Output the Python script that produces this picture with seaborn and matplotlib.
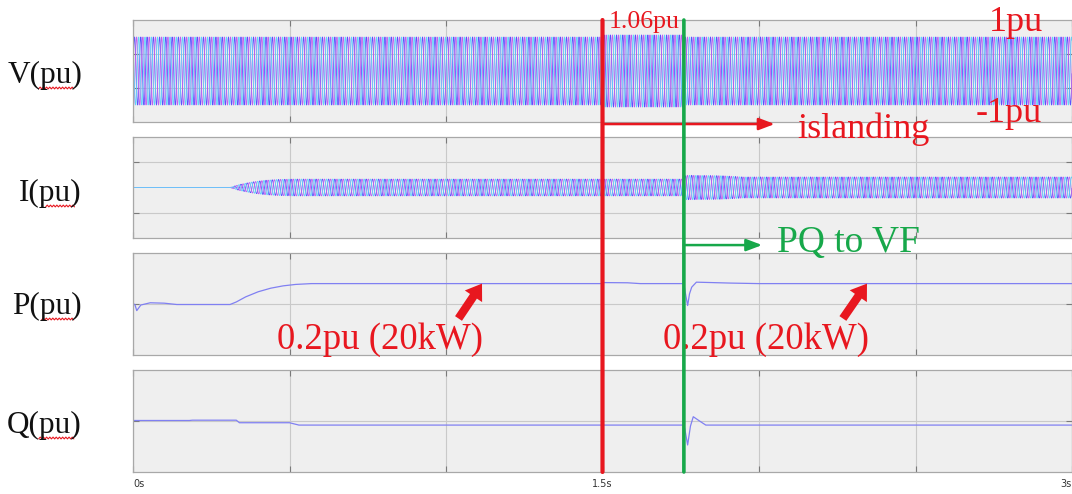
import numpy as np
import pandas as pd
import matplotlib
matplotlib.use("Agg")
import matplotlib.pyplot as plt
from matplotlib.patches import ConnectionPatch, FancyArrowPatch
from matplotlib.lines import Line2D
from matplotlib.transforms import IdentityTransform
import seaborn as sns

# ---------------------------------------------------------------- data
T_END = 3.0            # simulated time span, s
FREQ_HZ = 50.0         # grid frequency
T_ISLAND = 1.5         # breaker opens -> islanding
T_MODE = 1.76          # controller switches PQ -> VF

# voltage amplitude envelope (s, pu)
v_env_t = [0.0, 1.5, 1.501, 1.76, 1.761, 3.0]
v_env_a = [1.0, 1.0, 1.06, 1.06, 1.0, 1.0]

# current amplitude envelope (s, pu)
i_env_t = [0.0, 0.31, 0.34, 0.38, 0.42, 0.46, 0.51, 1.76, 1.766, 1.88, 1.95, 3.0]
i_env_a = [0.0, 0.0, 0.07, 0.13, 0.17, 0.19, 0.20, 0.20, 0.29, 0.28, 0.25, 0.25]

# active power (s, pu)
p_t = [0.0, 0.006, 0.012, 0.025, 0.055, 0.10, 0.14, 0.31, 0.33, 0.36, 0.40,
       0.44, 0.48, 0.52, 0.57, 1.50, 1.505, 1.58, 1.62, 1.76, 1.764, 1.772,
       1.778, 1.785, 1.80, 1.85, 1.91, 2.0, 3.0]
p_v = [0.0, -0.005, -0.065, -0.01, 0.012, 0.008, -0.005, -0.005, 0.02, 0.07, 0.12,
       0.155, 0.178, 0.192, 0.20, 0.20, 0.21, 0.208, 0.20, 0.20, 0.12, -0.015,
       0.10, 0.165, 0.214, 0.21, 0.205, 0.20, 0.20]

# reactive power (s, pu)
q_t = [0.0, 0.18, 0.19, 0.33, 0.34, 0.50, 0.53, 1.76, 1.763, 1.772, 1.781,
       1.79, 1.81, 1.83, 3.0]
q_v = [0.005, 0.005, 0.008, 0.008, -0.017, -0.017, -0.04, -0.04, -0.08, -0.235, -0.05,
       0.042, 0.0, -0.04, -0.04]

phase_names = ["a", "b", "c"]
phase_colors = ["#5a50ff", "#c060f0", "#62d2fa"]
x_tick_pos = [0.0, 0.5, 1.0, 1.5, 2.0, 2.5, 3.0]
x_tick_lab = ["0s", "", "", "1.5s", "", "", "3s"]
panel_names = ["V(pu)", "I(pu)", "P(pu)", "Q(pu)"]

# ---------------------------------------------------------------- style
sns.set_theme(style="white")
plt.rcParams["font.family"] = ["Liberation Serif", "DejaVu Serif"]

RED = "#e8171f"
GREEN = "#17a84a"
PANEL_BG = "#efefef"
GRID = "#c9c9c9"
TRACE = "#8080f2"

W, H = 1072, 494
fig = plt.figure(figsize=(W / 100, H / 100), dpi=100)


def px_rect(x0, y0, x1, y1):
    return [x0 / W, 1 - y1 / H, (x1 - x0) / W, (y1 - y0) / H]


axV = fig.add_axes(px_rect(133, 20, 1072, 122))
axI = fig.add_axes(px_rect(133, 137, 1072, 238))
axP = fig.add_axes(px_rect(133, 253, 1072, 355))
axQ = fig.add_axes(px_rect(133, 370, 1072, 472))


def three_phase(env_t, env_a):
    t = np.arange(0.0, T_END, 1 / 4000.0)
    amp = np.interp(t, env_t, env_a)
    frames = []
    for k, name in enumerate(phase_names):
        y = amp * np.sin(2 * np.pi * FREQ_HZ * t - k * 2 * np.pi / 3)
        frames.append(pd.DataFrame({"t": t, "value": y, "phase": name}))
    return pd.concat(frames, ignore_index=True)


df_v = three_phase(v_env_t, v_env_a)
df_i = three_phase(i_env_t, i_env_a)
palette = dict(zip(phase_names, phase_colors))

sns.lineplot(data=df_v, x="t", y="value", hue="phase", palette=palette,
             estimator=None, sort=False, legend=False, lw=0.6, ax=axV)
sns.lineplot(data=df_i, x="t", y="value", hue="phase", palette=palette,
             estimator=None, sort=False, legend=False, lw=0.6, ax=axI)
sns.lineplot(x=p_t, y=p_v, estimator=None, sort=False, color=TRACE, lw=0.9, ax=axP)
sns.lineplot(x=q_t, y=q_v, estimator=None, sort=False, color=TRACE, lw=0.9, ax=axQ)


def style_panel(ax, ylim, yticks):
    ax.set_facecolor(PANEL_BG)
    ax.set_xlim(0, T_END)
    ax.set_ylim(*ylim)
    ax.set_xticks(x_tick_pos)
    ax.set_yticks(yticks)
    ax.set_axisbelow(True)
    ax.grid(True, color=GRID, lw=0.8)
    ax.tick_params(direction="in", length=4, width=0.8, color="#7a7a7a",
                   top=True, right=True, bottom=True, left=True,
                   labelbottom=False, labelleft=False)
    for s in ax.spines.values():
        s.set_color("#a8a8a8")
        s.set_linewidth(0.9)
    ax.set_xlabel("")
    ax.set_ylabel("")


style_panel(axV, (-1.5, 1.5), [-0.5, 0.5])
style_panel(axI, (-1.2, 1.2), [-0.6, 0.6])
style_panel(axP, (-0.5, 0.5), [0.0])
style_panel(axQ, (-0.5, 0.5), [0.0])

axQ.tick_params(labelbottom=True, pad=5)
axQ.set_xticklabels(x_tick_lab, fontsize=7, color="#333333", family="DejaVu Sans")
labs = axQ.get_xticklabels()
labs[0].set_ha("left")
labs[-1].set_ha("right")

# event markers running through all four panels
for t_ev, col, lw in [(T_ISLAND, RED, 3.0), (T_MODE, GREEN, 2.6)]:
    con = ConnectionPatch(xyA=(t_ev, 1.0), coordsA=axV.get_xaxis_transform(),
                          xyB=(t_ev, 0.0), coordsB=axQ.get_xaxis_transform(),
                          color=col, lw=lw, zorder=20)
    fig.add_artist(con)

# thin arrows for the event descriptions
axV.annotate("", xy=(2.05, -0.02), xycoords=axV.get_xaxis_transform(),
             xytext=(T_ISLAND, -0.02), textcoords=axV.get_xaxis_transform(),
             arrowprops=dict(arrowstyle="-|>,head_length=0.95,head_width=0.36",
                             color=RED, lw=1.8, mutation_scale=10,
                             shrinkA=0, shrinkB=0),
             annotation_clip=False, zorder=21)
axI.annotate("", xy=(2.01, -0.07), xycoords=axI.get_xaxis_transform(),
             xytext=(T_MODE, -0.07), textcoords=axI.get_xaxis_transform(),
             arrowprops=dict(arrowstyle="-|>,head_length=0.95,head_width=0.36",
                             color=GREEN, lw=1.8, mutation_scale=10,
                             shrinkA=0, shrinkB=0),
             annotation_clip=False, zorder=21)

# bold arrows pointing at the steady active power
for tail, tip in [((1.04, -0.142), (1.115, 0.2)), ((2.268, -0.142), (2.345, 0.2))]:
    arr = FancyArrowPatch(tail, tip, transform=axP.transData,
                          arrowstyle="simple,head_length=1.1,head_width=1.5,tail_width=0.6",
                          mutation_scale=10, color=RED, lw=0, zorder=21,
                          shrinkA=0, shrinkB=0, clip_on=False)
    axP.add_patch(arr)


def ftext(x, y, s, **kw):
    return fig.text(x / W, 1 - y / H, s, va="baseline", **kw)


ftext(609, 28, "1.06pu", ha="left", fontsize=18.5, color=RED, zorder=22)
ftext(989, 31, "1pu", ha="left", fontsize=26, color=RED)
ftext(976, 122, "-1pu", ha="left", fontsize=26, color=RED)
ftext(797, 138, "islanding", ha="left", fontsize=26, color=RED)
ftext(777, 252, "PQ to VF", ha="left", fontsize=27, color=GREEN)
ftext(277, 349, "0.2pu (20kW)", ha="left", fontsize=26.5, color=RED)
ftext(663, 349, "0.2pu (20kW)", ha="left", fontsize=26.5, color=RED)

side = []
for name, base in zip(panel_names, [83, 201, 314, 433]):
    side.append(ftext(82, base, name, ha="right", fontsize=22.5, color="#111111"))

# wavy underline beneath the unit part of each side label
fig.canvas.draw()
renderer = fig.canvas.get_renderer()
for txt in side:
    bb = txt.get_window_extent(renderer)
    x0 = bb.x0 + 0.42 * bb.width
    x1 = bb.x1 - 0.10 * bb.width
    xs = np.arange(x0, x1, 1.6)
    ys = bb.y0 + 2.0 + np.where(np.arange(len(xs)) % 2 == 0, -0.9, 0.9)
    fig.add_artist(Line2D(xs, ys, transform=IdentityTransform(),
                          color=RED, lw=0.8))

fig.savefig("out.png", dpi=100)
